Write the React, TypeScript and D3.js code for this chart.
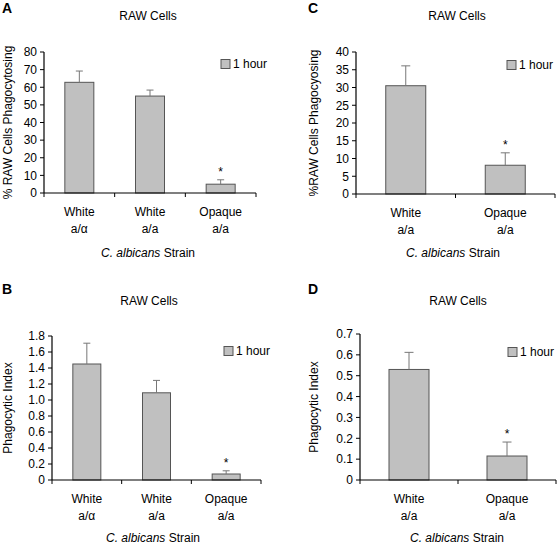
import React from "react";
import * as d3 from "d3";

// ---- Data ----
const strainsABLine1 = ["White", "White", "Opaque"];
const strainsABLine2 = ["a/α", "a/a", "a/a"];
const strainsCDLine1 = ["White", "Opaque"];
const strainsCDLine2 = ["a/a", "a/a"];

const aValues = [62.8, 55, 5];
const aErrors = [6.4, 3.4, 2.5];
const aStars = [false, false, true];

const bValues = [1.45, 1.09, 0.075];
const bErrors = [0.26, 0.155, 0.04];
const bStars = [false, false, true];

const cValues = [30.5, 8.1];
const cErrors = [5.6, 3.5];
const cStars = [false, true];

const dValues = [0.53, 0.115];
const dErrors = [0.082, 0.067];
const dStars = [false, true];

const aTicks = [0, 10, 20, 30, 40, 50, 60, 70, 80];
const bTicks = [0, 0.2, 0.4, 0.6, 0.8, 1.0, 1.2, 1.4, 1.6, 1.8];
const cTicks = [0, 5, 10, 15, 20, 25, 30, 35, 40];
const dTicks = [0, 0.1, 0.2, 0.3, 0.4, 0.5, 0.6, 0.7];

const titleText = "RAW Cells";
const legendText = "1 hour";

const FONT = "Liberation Sans, Arial, sans-serif";
const FS = 12;

type PanelProps = {
  letter: string;
  letterX: number;
  letterY: number;
  x0: number;
  x1: number;
  y0: number;
  y1: number;
  max: number;
  ticks: number[];
  fmt: (v: number) => string;
  line1: string[];
  line2: string[];
  values: number[];
  errors: number[];
  stars: boolean[];
  barW: number;
  capW: number;
  yLabel: string;
  yLabelX: number;
  titleX: number;
  titleY: number;
  legendX: number;
  legendY: number;
  xLabelY: number;
  axisTitleX: number;
  axisTitleY: number;
};

function Panel(p: PanelProps) {
  const y = d3.scaleLinear().domain([0, p.max]).range([p.y0, p.y1]);
  const x = d3
    .scaleBand<number>()
    .domain(p.values.map((_, i) => i))
    .range([p.x0, p.x1]);
  const bw = x.bandwidth();
  const bounds = p.values.map((_, i) => x(i) as number).concat([p.x1]);
  return (
    <g fontFamily={FONT} fill="#000">
      <text x={p.letterX} y={p.letterY} fontSize={14} fontWeight="bold">
        {p.letter}
      </text>
      <text x={p.titleX} y={p.titleY} fontSize={FS} textAnchor="middle">
        {titleText}
      </text>
      {p.values.map((v, i) => {
        const cx = (x(i) as number) + bw / 2;
        const top = y(v);
        const et = y(v + p.errors[i]);
        return (
          <g key={i}>
            <rect
              x={cx - p.barW / 2}
              y={top}
              width={p.barW}
              height={p.y0 - top}
              fill="#c0c0c0"
              stroke="#555"
              strokeWidth={1}
            />
            <line x1={cx} x2={cx} y1={top} y2={et} stroke="#777" strokeWidth={1} />
            <line
              x1={cx - p.capW / 2}
              x2={cx + p.capW / 2}
              y1={et}
              y2={et}
              stroke="#777"
              strokeWidth={1}
            />
            {p.stars[i] && (
              <text x={cx} y={et - 4} fontSize={FS} textAnchor="middle">
                *
              </text>
            )}
          </g>
        );
      })}
      <line x1={p.x0} x2={p.x0} y1={p.y1} y2={p.y0} stroke="#000" strokeWidth={1.2} />
      {p.ticks.map((t) => (
        <g key={t}>
          <line x1={p.x0 - 4} x2={p.x0} y1={y(t)} y2={y(t)} stroke="#000" strokeWidth={1} />
          <text x={p.x0 - 7} y={y(t) + 4.3} fontSize={FS} textAnchor="end">
            {p.fmt(t)}
          </text>
        </g>
      ))}
      <line x1={p.x0} x2={p.x1} y1={p.y0} y2={p.y0} stroke="#000" strokeWidth={1.2} />
      {bounds.map((b, i) => (
        <line key={i} x1={b} x2={b} y1={p.y0} y2={p.y0 + 4} stroke="#000" strokeWidth={1} />
      ))}
      {p.line1.map((l, i) => {
        const cx = (x(i) as number) + bw / 2;
        return (
          <text key={i} x={cx} fontSize={FS} textAnchor="middle">
            <tspan x={cx} y={p.xLabelY}>
              {l}
            </tspan>
            <tspan x={cx} y={p.xLabelY + 17}>
              {p.line2[i]}
            </tspan>
          </text>
        );
      })}
      <text x={p.axisTitleX} y={p.axisTitleY} fontSize={FS} textAnchor="middle">
        <tspan fontStyle="italic">C. albicans</tspan> Strain
      </text>
      <text
        transform={`translate(${p.yLabelX},${(p.y0 + p.y1) / 2}) rotate(-90)`}
        fontSize={FS}
        textAnchor="middle"
      >
        {p.yLabel}
      </text>
      <rect
        x={p.legendX}
        y={p.legendY - 4.5}
        width={9}
        height={9}
        fill="#c0c0c0"
        stroke="#555"
        strokeWidth={1}
      />
      <text x={p.legendX + 12} y={p.legendY + 4.3} fontSize={FS}>
        {legendText}
      </text>
    </g>
  );
}

const intFmt = (v: number) => d3.format("d")(v);
const decFmt = (v: number) => (v === 0 ? "0" : d3.format(".1f")(v));

export default function App() {
  return (
    <svg
      width={558}
      height={546}
      style={{ position: "absolute", left: 0, top: 0, background: "#fff" }}
    >
      <rect width={558} height={546} fill="#fff" />
      <Panel
        letter="A"
        letterX={2}
        letterY={13}
        x0={44}
        x1={256}
        y0={193}
        y1={52}
        max={80}
        ticks={aTicks}
        fmt={intFmt}
        line1={strainsABLine1}
        line2={strainsABLine2}
        values={aValues}
        errors={aErrors}
        stars={aStars}
        barW={29}
        capW={7}
        yLabel="% RAW Cells Phagocytosing"
        yLabelX={12}
        titleX={148}
        titleY={20}
        legendX={221}
        legendY={64}
        xLabelY={216}
        axisTitleX={148}
        axisTitleY={257}
      />
      <Panel
        letter="C"
        letterX={308}
        letterY={13}
        x0={356}
        x1={555}
        y0={194}
        y1={52}
        max={40}
        ticks={cTicks}
        fmt={intFmt}
        line1={strainsCDLine1}
        line2={strainsCDLine2}
        values={cValues}
        errors={cErrors}
        stars={cStars}
        barW={40}
        capW={9}
        yLabel="%RAW Cells Phagocyosing"
        yLabelX={318}
        titleX={457}
        titleY={20}
        legendX={507}
        legendY={65}
        xLabelY={217}
        axisTitleX={453}
        axisTitleY={257}
      />
      <Panel
        letter="B"
        letterX={2}
        letterY={294}
        x0={52}
        x1={261}
        y0={480}
        y1={336}
        max={1.8}
        ticks={bTicks}
        fmt={decFmt}
        line1={strainsABLine1}
        line2={strainsABLine2}
        values={bValues}
        errors={bErrors}
        stars={bStars}
        barW={28}
        capW={7}
        yLabel="Phagocytic Index"
        yLabelX={12}
        titleX={149}
        titleY={305}
        legendX={224}
        legendY={351}
        xLabelY={503}
        axisTitleX={153}
        axisTitleY={542}
      />
      <Panel
        letter="D"
        letterX={308}
        letterY={294}
        x0={360}
        x1={556}
        y0={480}
        y1={334}
        max={0.7}
        ticks={dTicks}
        fmt={decFmt}
        line1={strainsCDLine1}
        line2={strainsCDLine2}
        values={dValues}
        errors={dErrors}
        stars={dStars}
        barW={40}
        capW={9}
        yLabel="Phagocytic Index"
        yLabelX={318}
        titleX={458}
        titleY={305}
        legendX={508}
        legendY={352}
        xLabelY={503}
        axisTitleX={457}
        axisTitleY={542}
      />
    </svg>
  );
}
